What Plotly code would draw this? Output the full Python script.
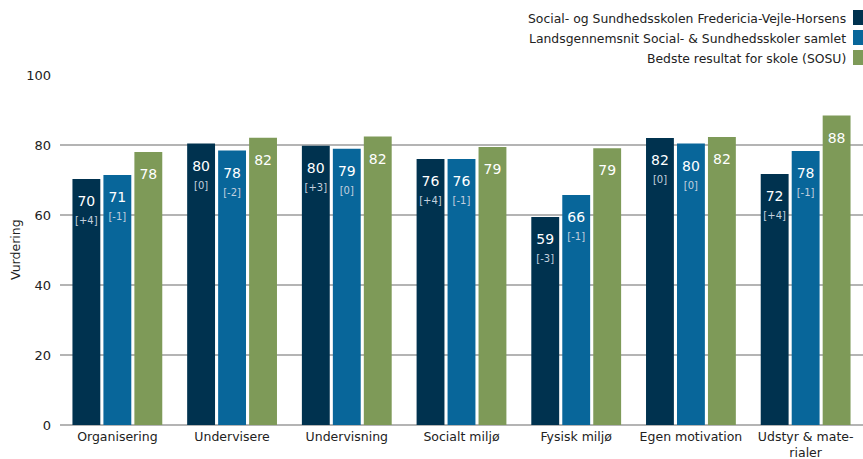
import plotly.graph_objects as go

categories = ["Organisering", "Undervisere", "Undervisning", "Socialt miljø",
              "Fysisk miljø", "Egen motivation", "Udstyr & mate-<br>rialer"]
series_names = ["Social- og Sundhedsskolen Fredericia-Vejle-Horsens",
                "Landsgennemsnit Social- & Sundhedsskoler samlet",
                "Bedste resultat for skole (SOSU)"]
school = [70.3, 80.4, 79.8, 76.0, 59.4, 82.0, 71.7]
national = [71.4, 78.4, 78.9, 76.0, 65.7, 80.4, 78.3]
best = [78.0, 82.1, 82.4, 79.4, 79.1, 82.3, 88.4]
school_change = ["+4", "0", "+3", "+4", "-3", "0", "+4"]
national_change = ["-1", "-2", "0", "-1", "-1", "0", "-1"]
colors = ["#00324f", "#08669a", "#7e9a58"]

FONT = "DejaVu Sans"

def labels(vals, changes=None):
    out = []
    for i, v in enumerate(vals):
        s = f"<span style='font-size:6px'> </span><br>{round(v)}"
        if changes is not None:
            s += f"<br><span style='font-size:10px;color:#c3d0de'>[{changes[i]}]</span>"
        out.append(s)
    return out

fig = go.Figure()
data = [(school, school_change), (national, national_change), (best, None)]
for name, (vals, ch), col in zip(series_names, data, colors):
    fig.add_trace(go.Bar(
        x=categories, y=vals, name=name, marker=dict(color=col, line=dict(width=0)),
        text=labels(vals, ch), textposition="inside", insidetextanchor="end",
        textangle=0, textfont=dict(family=FONT, size=14, color="white"),
        constraintext="none", cliponaxis=False, hoverinfo="x+y"))

# legend (text right-aligned with swatch on the right, like the reference)
row_y = [18, 38, 58]
for name, col, yy in zip(series_names, colors, row_y):
    yp = 1 + (75 - yy) / 350
    fig.add_annotation(xref="paper", yref="paper", x=(848 - 60) / 803, y=yp,
                       text=name, showarrow=False, xanchor="right", yanchor="middle",
                       font=dict(family=FONT, size=12.4, color="#222"))
    fig.add_shape(type="rect", xref="paper", yref="paper",
                  x0=(853 - 60) / 803, x1=1.0, y0=yp - 7 / 350, y1=yp + 8 / 350,
                  fillcolor=col, line=dict(width=0))

# y-axis title
fig.add_annotation(xref="paper", yref="paper", x=(15 - 60) / 803, y=0.5,
                   text="Vurdering", textangle=-90, showarrow=False,
                   xanchor="center", yanchor="middle",
                   font=dict(family=FONT, size=12.5, color="#222"))

fig.update_layout(
    width=863, height=459,
    margin=dict(l=60, r=0, t=75, b=34),
    paper_bgcolor="white", plot_bgcolor="white",
    barmode="group", bargap=0.19, bargroupgap=0.1,
    showlegend=False,
    font=dict(family=FONT, size=12, color="#222"),
    xaxis=dict(automargin=False, tickfont=dict(family=FONT, size=12.5, color="#222"),
               showgrid=False, ticks="", showline=False, ticklabelstandoff=2),
    yaxis=dict(range=[0, 100], dtick=20, automargin=False,
               showgrid=True, gridcolor="#b4b4b4", gridwidth=2,
               zeroline=True, zerolinecolor="#b4b4b4", zerolinewidth=2,
               tickfont=dict(family=FONT, size=13, color="#222"),
               ticks="", ticklabelstandoff=8),
)

fig.write_html("out.html", config={"displayModeBar": False},
               post_script="document.body.style.margin='0';")
